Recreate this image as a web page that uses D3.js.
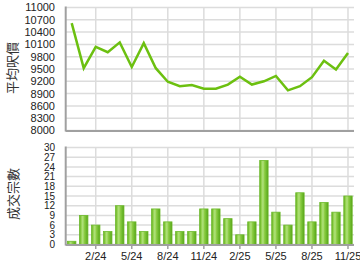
<!DOCTYPE html>
<html>
<head>
<meta charset="utf-8">
<script src="https://cdn.jsdelivr.net/npm/d3@7"></script>
<style>
  body { margin: 0; background: #fff; }
  svg { display: block; }
</style>
</head>
<body>
<svg width="360" height="270"></svg>
<script>
// months, 12/23 to 11/25
var months = ["12/23","1/24","2/24","3/24","4/24","5/24","6/24","7/24","8/24","9/24","10/24","11/24",
              "12/24","1/25","2/25","3/25","4/25","5/25","6/25","7/25","8/25","9/25","10/25","11/25"];
// average price per sq ft
var avgPrice = [10620, 9520, 10040, 9910, 10150, 9550, 10130, 9520, 9190, 9080, 9110, 9020,
                9020, 9120, 9310, 9120, 9200, 9330, 8980, 9080, 9300, 9700, 9490, 9890];
// number of transactions
var deals = [1, 9, 6, 4, 12, 7, 4, 11, 7, 4, 4, 11, 11, 8, 3, 7, 26, 10, 6, 16, 7, 13, 10, 15];
var tickMonths = ["2/24","5/24","8/24","11/24","2/25","5/25","8/25","11/25"];
var priceTicks = d3.range(8000, 11001, 300);
var dealTicks = d3.range(0, 31, 3);

var svg = d3.select("svg");
var font = "'Liberation Sans', Arial, sans-serif";
var cjk = "'Noto Sans CJK TC', 'Noto Sans CJK SC', sans-serif";

var left = 65.7, right = 354;
var x = d3.scaleBand().domain(months).range([left, right]);
var xc = function(m) { return x(m) + x.bandwidth() / 2; };

var yTop = d3.scaleLinear().domain([8000, 11000]).range([130.5, 7.5]);
var yBot = d3.scaleLinear().domain([0, 30]).range([244.5, 147.5]);

var grid = "#dcdcdc", axisCol = "#a0a0a0";

// gradient for bars
var defs = svg.append("defs");
var grad = defs.append("linearGradient").attr("id", "barg").attr("x1", "0").attr("x2", "1").attr("y1", "0").attr("y2", "0");
[["0%", "#5ea91c"], ["18%", "#8fd048"], ["38%", "#b2e27e"], ["58%", "#8ccc44"], ["82%", "#6bb82a"], ["100%", "#579f14"]]
  .forEach(function(s) { grad.append("stop").attr("offset", s[0]).attr("stop-color", s[1]); });

function panel(y, ticks, size) {
  var g = svg.append("g");
  // horizontal grid
  g.selectAll(".hg").data(ticks).enter().append("line")
    .attr("x1", left).attr("x2", right)
    .attr("y1", function(d) { return y(d); }).attr("y2", function(d) { return y(d); })
    .attr("stroke", grid).attr("stroke-width", 1.5);
  // vertical grid
  g.selectAll(".vg").data(tickMonths).enter().append("line")
    .attr("x1", xc).attr("x2", xc)
    .attr("y1", y.range()[1]).attr("y2", y.range()[0])
    .attr("stroke", grid).attr("stroke-width", 1.5);
  // tick labels
  g.selectAll(".tl").data(ticks).enter().append("text")
    .attr("x", 55).attr("y", function(d) { return y(d) + size * 0.36; })
    .attr("text-anchor", "end")
    .style("font-family", font).style("font-size", size + "px").style("fill", "#222")
    .text(function(d) { return d; });
  return g;
}

function axes(y) {
  svg.append("line").attr("x1", left).attr("x2", left)
    .attr("y1", y.range()[1] - 1).attr("y2", y.range()[0] + 1)
    .attr("stroke", axisCol).attr("stroke-width", 2);
  svg.append("line").attr("x1", left).attr("x2", right)
    .attr("y1", y.range()[0] + 0.5).attr("y2", y.range()[0] + 0.5)
    .attr("stroke", axisCol).attr("stroke-width", 2);
}

// top panel
panel(yTop, priceTicks, 11);
axes(yTop);

var line = d3.line()
  .x(function(d, i) { return xc(months[i]); })
  .y(function(d) { return yTop(d); });

svg.append("path")
  .datum(avgPrice)
  .attr("d", line)
  .attr("fill", "none")
  .attr("stroke", "#6cc010")
  .attr("stroke-width", 2.5)
  .attr("stroke-linejoin", "miter");

svg.append("text")
  .attr("transform", "translate(17,68)rotate(-90)")
  .attr("text-anchor", "middle")
  .style("font-family", cjk).style("font-size", "13px").style("fill", "#333")
  .text("平均呎價");

// bottom panel
panel(yBot, dealTicks, 10);

var bw = 8.4;
svg.append("g").selectAll("rect").data(deals).enter().append("rect")
  .attr("x", function(d, i) { return xc(months[i]) - bw / 2; })
  .attr("y", function(d) { return yBot(d); })
  .attr("width", bw)
  .attr("height", function(d) { return yBot(0) - yBot(d); })
  .attr("fill", "url(#barg)")
  .attr("stroke", "#6dba2c")
  .attr("stroke-width", 0.8);

axes(yBot);

// x ticks and labels
svg.append("g").selectAll("line").data(tickMonths).enter().append("line")
  .attr("x1", xc).attr("x2", xc)
  .attr("y1", 245).attr("y2", 249)
  .attr("stroke", axisCol).attr("stroke-width", 1.5);

svg.append("g").selectAll("text").data(tickMonths).enter().append("text")
  .attr("x", xc).attr("y", 260)
  .attr("text-anchor", "middle")
  .style("font-family", font).style("font-size", "11px").style("fill", "#222")
  .text(function(d) { return d; });

svg.append("text")
  .attr("transform", "translate(18,194)rotate(-90)")
  .attr("text-anchor", "middle")
  .style("font-family", cjk).style("font-size", "13px").style("fill", "#333")
  .text("成交宗數");
</script>
</body>
</html>
